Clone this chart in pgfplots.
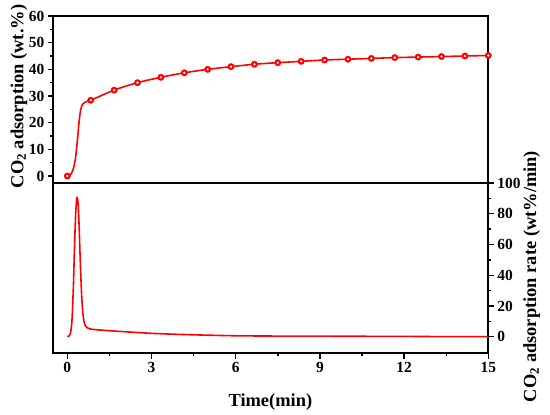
\documentclass[border=0pt]{standalone}
\usepackage{pgfplots}
\pgfplotsset{compat=1.18}
\usepackage{fontspec}
\setmainfont{Liberation Serif}[BoldFont={Liberation Serif Bold}]
\begin{document}
\bfseries
\begin{tikzpicture}[x=1bp,y=1bp,font=\bfseries]
\useasboundingbox (-53.3bp,-62bp) rectangle (496.7bp,353bp);
\pgfplotsset{
  every axis/.append style={
    scale only axis,
    width=435bp,
    xmin=-0.5, xmax=15,
    axis line style={line width=1.7pt},
    every tick/.style={line width=1.4pt, black},
    major tick length=5.5bp,
    minor tick length=3bp,
    tick align=outside,
    /pgf/number format/assume math mode=true,
    every tick label/.append style={font=\fontsize{15.5}{15.5}\selectfont\bfseries},
    every axis label/.append style={font=\fontsize{18.5}{18.5}\selectfont\bfseries},
  }
}
% top panel
\begin{axis}[
  at={(0bp,170bp)}, anchor=south west,
  height=167bp,
  ymin=-2.62, ymax=60,
  ytick={0,10,20,30,40,50,60},
  yticklabels={\bfseries 0,\bfseries 10,\bfseries 20,\bfseries 30,\bfseries 40,\bfseries 50,\bfseries 60},
  minor y tick num=1,
  ytick pos=left,
  xtick=\empty,
  ylabel={\bfseries CO\textsubscript{2} adsorption (wt.\%)},
  ylabel style={at={(axis description cs:-0.079,0.518)}, anchor=center, rotate=0},
  clip=false,
]
\addplot[red, line width=1.6pt, smooth, tension=0.6] coordinates {
(0,0) (0.05,-0.2) (0.1,0.3) (0.15,1.1) (0.21,2.6) (0.26,4.8) (0.3,7.5) (0.36,13.5) (0.42,20.5) (0.48,25) (0.55,27) (0.65,27.8) (0.833,28.4)
(1.667,32.2) (2.5,35.0) (3.333,37.0) (4.167,38.7) (5.0,40.0) (5.833,41.0) (6.667,41.9) (7.5,42.5) (8.333,43.0) (9.167,43.5) (10.0,43.8) (10.833,44.1) (11.667,44.4) (12.5,44.6) (13.333,44.8) (14.167,45.0) (15.0,45.2)
};
\pgfplotstableread{
x y
0 0
0.833 28.4
1.667 32.2
2.5 35.0
3.333 37.0
4.167 38.7
5.0 40.0
5.833 41.0
6.667 41.9
7.5 42.5
8.333 43.0
9.167 43.5
10.0 43.8
10.833 44.1
11.667 44.4
12.5 44.6
13.333 44.8
14.167 45.0
15.0 45.2
}\marks
\addplot[only marks, mark=*, mark size=3.2bp, mark options={fill=red, draw=red}] table {\marks};
\addplot[only marks, mark=*, mark size=0.9bp, mark options={fill=white, draw=white}] table {\marks};
\end{axis}
% bottom panel
\begin{axis}[
  at={(0bp,0bp)}, anchor=south west,
  height=170bp,
  ymin=-10.6, ymax=100,
  ytick={0,20,40,60,80,100},
  yticklabels={\bfseries 0,\bfseries 20,\bfseries 40,\bfseries 60,\bfseries 80,\bfseries 100},
  minor y tick num=1,
  ytick pos=right,
  yticklabel pos=right,
  xtick={0,3,6,9,12,15},
  xticklabels={\bfseries 0,\bfseries 3,\bfseries 6,\bfseries 9,\bfseries 12,\bfseries 15},
  minor x tick num=1,
  xtick pos=bottom,
  xlabel={\bfseries Time(min)},
  xlabel style={at={(axis description cs:0.499,-0.288)}, anchor=center},
  ylabel={\bfseries CO\textsubscript{2} adsorption rate (wt\%/min)},
  ylabel style={at={(axis description cs:1.10,0.45)}, anchor=center, rotate=0},
  clip=false,
]
\addplot[red, line width=1.6pt, smooth, tension=0.5] coordinates {
(0,0) (0.05,0.3) (0.1,1.5) (0.15,7) (0.18,16) (0.22,35) (0.25,55) (0.28,72) (0.3,81) (0.33,89) (0.345,90.5) (0.37,89) (0.39,85) (0.42,72) (0.45,55) (0.48,40) (0.51,27) (0.55,16) (0.6,9.5) (0.65,7) (0.7,5.9) (0.8,5.1) (1.0,4.6) (1.5,3.9) (2.0,3.3) (3,2.2) (4,1.5) (5,1.0) (6,0.6) (7,0.45) (8,0.4) (9,0.35) (10,0.3) (11,0.25) (12,0.2) (13,0.1) (14,0.05) (15,0)
};
\end{axis}
\end{tikzpicture}
\end{document}
